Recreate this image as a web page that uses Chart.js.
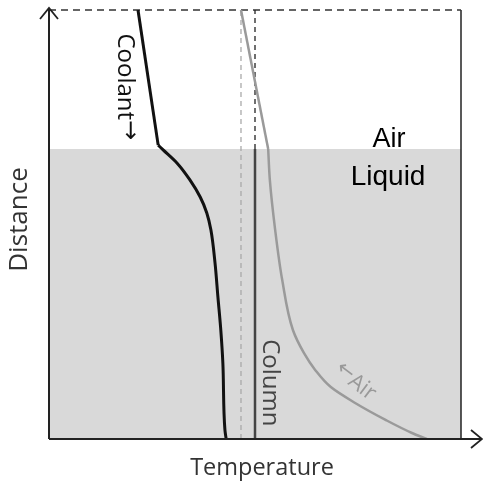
<!DOCTYPE html>
<html>
<head>
<meta charset="utf-8">
<script src="https://cdn.jsdelivr.net/npm/chart.js@4.4.1/dist/chart.umd.min.js"></script>
<style>
  html, body { margin: 0; padding: 0; background: #fff; }
  #wrap { width: 483px; height: 482px; }
</style>
</head>
<body>
<div id="wrap"><canvas id="chart"></canvas></div>
<script>
// Temperature (x) vs distance (y), both on a 0-100 relative scale
const coolantTemp = [21.6, 26.5, 27.7, 31.1, 34.2, 36.7, 38.3, 39.3, 40.3, 41.0, 41.7, 42.2, 42.7, 43.0];
const coolantDist = [100, 68.5, 67.4, 64.3, 60.4, 56.4, 52.7, 48.7, 41.0, 33.1, 25.4, 17.7, 2.1, 0];
const airTemp = [46.6, 53.2, 53.6, 54.9, 56.6, 59.2, 61.9, 64.6, 68.4, 74.3, 81.8, 88.1, 91.7];
const airDist = [100, 67.6, 60.4, 48.7, 37.1, 25.4, 20.0, 16.1, 12.1, 8.4, 4.4, 1.4, 0];
const columnTemp = 50.0;
const airInletTemp = 46.6;
const liquidLevel = 67.6;
const axisRange = [0, 100];

const pts = (xs, ys) => xs.map((x, i) => ({ x: x, y: ys[i] }));
const ARROW_FONT = '"DejaVu Sans", sans-serif';

// text labels + axes with arrow heads
const labelsPlugin = {
    id: 'labels',
    afterDatasetsDraw(chart) {
        const ctx = chart.ctx;
        const xs = chart.scales.x, ys = chart.scales.y;
        const left = xs.getPixelForValue(axisRange[0]);
        const right = xs.getPixelForValue(axisRange[1]);
        const top = ys.getPixelForValue(axisRange[1]);
        const bottom = ys.getPixelForValue(axisRange[0]);
        ctx.save();

        // axes
        ctx.strokeStyle = '#222';
        ctx.lineWidth = 2;
        ctx.beginPath();
        ctx.moveTo(left, bottom);
        ctx.lineTo(left, top - 2);
        ctx.moveTo(left, bottom);
        ctx.lineTo(chart.width - 1, bottom);
        ctx.stroke();
        ctx.lineWidth = 1.8;
        ctx.beginPath();
        ctx.moveTo(left - 9, top + 9);
        ctx.lineTo(left, top - 2);
        ctx.lineTo(left + 9, top + 9);
        ctx.moveTo(chart.width - 12, bottom - 9);
        ctx.lineTo(chart.width - 1, bottom);
        ctx.lineTo(chart.width - 12, bottom + 9);
        ctx.stroke();

        // Air / Liquid
        ctx.fillStyle = '#000';
        ctx.textAlign = 'center';
        ctx.textBaseline = 'alphabetic';
        ctx.font = '27px "Liberation Sans", Arial, sans-serif';
        ctx.fillText('Air', xs.getPixelForValue(82.5), ys.getPixelForValue(68.1));
        ctx.font = '28px "Liberation Sans", Arial, sans-serif';
        ctx.fillText('Liquid', xs.getPixelForValue(82.3), ys.getPixelForValue(59.2));

        // rotated labels made of runs with their own font
        const rotRuns = (runs, x, y, angle, color) => {
            ctx.save();
            ctx.translate(x, y);
            ctx.rotate(angle);
            ctx.fillStyle = color;
            ctx.textAlign = 'left';
            ctx.textBaseline = 'middle';
            let total = 0;
            runs.forEach(r => { ctx.font = r[1]; total += ctx.measureText(r[0]).width; });
            let pos = -total / 2;
            runs.forEach(r => {
                ctx.font = r[1];
                ctx.fillText(r[0], pos, r[2] || 0);
                pos += ctx.measureText(r[0]).width;
            });
            ctx.restore();
        };
        rotRuns([['Coolant', '24px "Open Sans", sans-serif'], ['\u2192', '24px ' + ARROW_FONT, -4]],
            xs.getPixelForValue(18.4), ys.getPixelForValue(82.1), Math.PI / 2, '#111');
        rotRuns([['Column', '24px "Open Sans", sans-serif']],
            xs.getPixelForValue(53.6), ys.getPixelForValue(13.1), Math.PI / 2, '#444');
        rotRuns([['\u2190', '21px ' + ARROW_FONT, -3], ['Air', '22px "Open Sans", sans-serif']],
            xs.getPixelForValue(74.3), ys.getPixelForValue(13.3), 0.65, '#999');

        // axis titles
        ctx.fillStyle = '#333';
        ctx.textAlign = 'center';
        ctx.textBaseline = 'alphabetic';
        ctx.font = '23.5px "Open Sans", sans-serif';
        ctx.fillText('Temperature', (left + right) / 2 + 7, chart.height - 7);
        ctx.font = '26px "Open Sans", sans-serif';
        ctx.save();
        ctx.translate(20, (top + bottom) / 2 - 5);
        ctx.rotate(-Math.PI / 2);
        ctx.textBaseline = 'middle';
        ctx.fillText('Distance', 0, 0);
        ctx.restore();

        ctx.restore();
    }
};

const ctx = document.getElementById('chart').getContext('2d');
new Chart(ctx, {
    type: 'scatter',
    data: {
        datasets: [
            { // coolant, straight part above the liquid
                data: pts(coolantTemp.slice(0, 2), coolantDist.slice(0, 2)),
                showLine: true, borderColor: '#111', borderWidth: 3, pointRadius: 0, tension: 0
            },
            { // coolant inside the liquid, smoothed along distance
                data: pts(coolantTemp.slice(1), coolantDist.slice(1)),
                indexAxis: 'y', cubicInterpolationMode: 'monotone',
                showLine: true, borderColor: '#111', borderWidth: 3, pointRadius: 0
            },
            {
                data: pts(airTemp.slice(0, 2), airDist.slice(0, 2)),
                showLine: true, borderColor: '#9a9a9a', borderWidth: 2.5, pointRadius: 0, tension: 0
            },
            {
                data: pts(airTemp.slice(1), airDist.slice(1)),
                indexAxis: 'y', cubicInterpolationMode: 'monotone',
                showLine: true, borderColor: '#9a9a9a', borderWidth: 2.5, pointRadius: 0
            },
            { // column wall
                data: [{ x: columnTemp, y: 0 }, { x: columnTemp, y: liquidLevel }],
                showLine: true, borderColor: '#444', borderWidth: 2.5, pointRadius: 0
            },
            {
                data: [{ x: columnTemp, y: liquidLevel }, { x: columnTemp, y: 100 }],
                showLine: true, borderColor: '#222', borderWidth: 1.3, borderDash: [5, 4], pointRadius: 0
            },
            {
                data: [{ x: airInletTemp, y: 0 }, { x: airInletTemp, y: 100 }],
                showLine: true, borderColor: '#aaa', borderWidth: 1.3, borderDash: [5, 4], pointRadius: 0
            },
            { // top dashed edge
                data: [{ x: 0, y: 100 }, { x: 100, y: 100 }],
                showLine: true, borderColor: '#333', borderWidth: 1.5, borderDash: [7, 5], pointRadius: 0, clip: false
            },
            { // right edge
                data: [{ x: 100, y: 0 }, { x: 100, y: 100 }],
                showLine: true, borderColor: '#222', borderWidth: 1.5, pointRadius: 0, clip: false
            },
            { // liquid region
                data: [{ x: 0, y: liquidLevel }, { x: 100, y: liquidLevel }],
                showLine: true, borderWidth: 0, borderColor: 'rgba(0,0,0,0)',
                backgroundColor: '#d9d9d9', fill: 'origin', pointRadius: 0
            }
        ]
    },
    options: {
        responsive: true,
        maintainAspectRatio: false,
        animation: false,
        events: [],
        layout: { padding: { left: 49, top: 10, right: 22, bottom: 43 } },
        scales: {
            x: { type: 'linear', min: axisRange[0], max: axisRange[1], display: false },
            y: { type: 'linear', min: axisRange[0], max: axisRange[1], display: false }
        },
        plugins: {
            legend: { display: false },
            tooltip: { enabled: false }
        }
    },
    plugins: [labelsPlugin]
});
</script>
</body>
</html>
